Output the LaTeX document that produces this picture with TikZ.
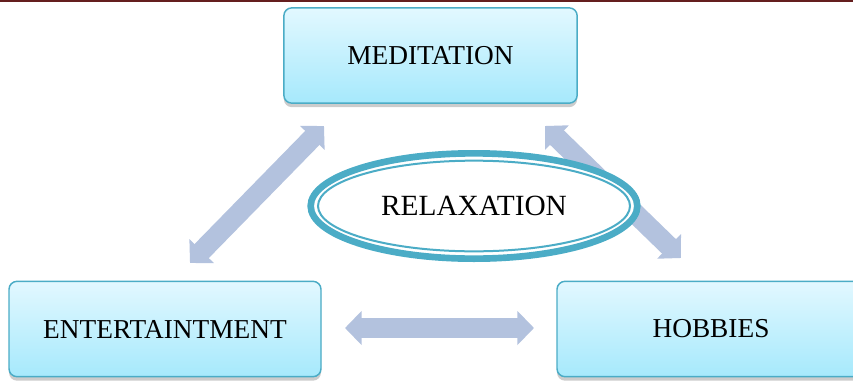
\documentclass[tikz,border=0pt]{standalone}
\usepackage{fontspec}
\setmainfont{Liberation Serif}
\usetikzlibrary{shadows,arrows.meta,shapes.geometric}

\definecolor{boxtop}{RGB}{226,248,255}
\definecolor{boxbottom}{RGB}{166,233,252}
\definecolor{boxline}{RGB}{75,172,198}
\definecolor{flecheclr}{RGB}{179,194,222}
\definecolor{bordure}{RGB}{100,30,30}

\tikzset{
  boite/.style={rectangle, rounded corners=6pt, draw=boxline, line width=1.1pt,
    top color=boxtop, bottom color=boxbottom, minimum height=71.5pt,
    drop shadow={opacity=0.4, shadow xshift=0pt, shadow yshift=-3pt},
    font=\fontsize{20.5}{24}\selectfont},
  fleche/.style={draw=flecheclr, line width=15pt,
    {Triangle[width=25pt,length=12.5pt]}-{Triangle[width=25pt,length=12.5pt]}},
  anneau/.style={ellipse, draw=boxline, line width=5pt, fill=white,
    minimum width=245pt, minimum height=79pt, font=\fontsize{22}{26}\selectfont}
}

\begin{document}
\begin{tikzpicture}[x=0.75pt, y=0.75pt]
	\useasboundingbox (0,0) rectangle (853,380);
	\clip (0,0) rectangle (853,380);

	% Trait en haut de page
	\fill[bordure] (0,378) rectangle (853,380);

	% Les trois boites
	\node[boite, minimum width=220pt] (med) at (430.5,324.5) {MEDITATION};
	\node[boite, minimum width=234pt] (ent) at (165,51) {ENTERTAINTMENT};
	\node[boite, minimum width=231pt] (hob) at (711,51) {HOBBIES};

	% Extremites des fleches
	\coordinate (g1) at (190,117);
	\coordinate (g2) at (324,254);
	\coordinate (d1) at (545,254);
	\coordinate (d2) at (681,122);
	\coordinate (b1) at (345,52);
	\coordinate (b2) at (534,52);

	% Fleches doubles
	\draw[fleche] (g1) -- (g2); % ENTERTAINTMENT <-> MEDITATION
	\draw[fleche] (d1) -- (d2); % MEDITATION <-> HOBBIES
	\draw[fleche] (b1) -- (b2); % ENTERTAINTMENT <-> HOBBIES

	% Ellipse au centre
	\node[anneau] (rel) at (474,174) {RELAXATION};
	\draw[boxline, line width=1.5pt] (rel.center) ellipse [x radius=117pt, y radius=34pt];

\end{tikzpicture}
\end{document}
